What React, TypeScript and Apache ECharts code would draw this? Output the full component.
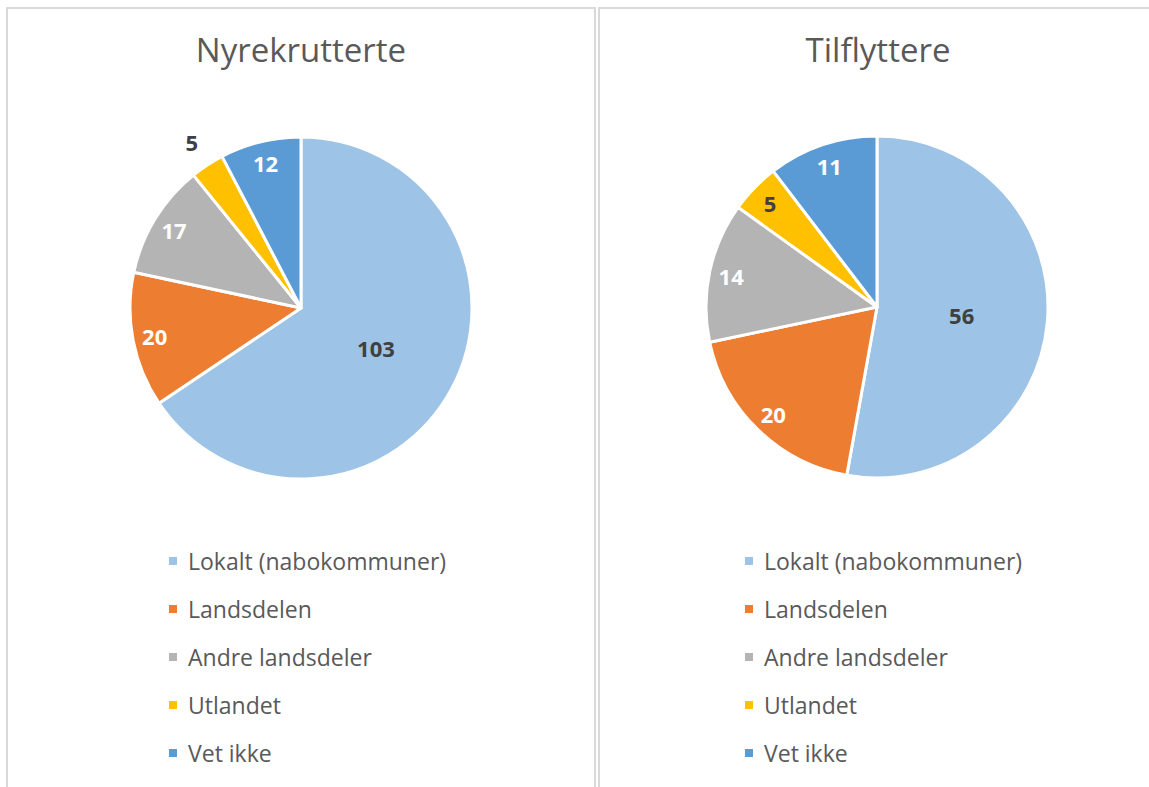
import React, { useEffect, useRef } from "react";
import * as echarts from "echarts";

const categories = ["Lokalt (nabokommuner)", "Landsdelen", "Andre landsdeler", "Utlandet", "Vet ikke"];
const sliceColors = ["#9DC3E6", "#ED7D31", "#B4B4B4", "#FFC000", "#5B9BD5"];
const nyrekrutterte = [103, 20, 17, 5, 12];
const tilflyttere = [56, 20, 14, 5, 11];
const titles = ["Nyrekrutterte", "Tilflyttere"];
// where each slice's value label sits: centre of pie, inner ring, or outside
const leftLabelRing = ["center", "ring", "ring", "outer", "ring"];
const rightLabelRing = ["center", "ring", "ring", "ring", "ring"];
const darkLabel = [true, false, false, true, false];

const FONT = "'Open Sans', 'Noto Sans', sans-serif";
const TEXT = "#595959";
const DARK = "#404040";

function buildSeries(values: number[], rings: string[], center: number[], id: string) {
  const labelFor = (i: number, ring: string) => ({
    show: rings[i] === ring,
    position: "inside",
    formatter: "{c}",
    color: darkLabel[i] || ring === "outer" ? DARK : "#FFFFFF",
    fontFamily: FONT,
    fontSize: 22,
    fontWeight: "bold",
  });
  const main = {
    type: "pie",
    id: id + "-main",
    center,
    radius: [0, 171],
    startAngle: 90,
    clockwise: true,
    avoidLabelOverlap: false,
    silent: true,
    itemStyle: { borderColor: "#FFFFFF", borderWidth: 3 },
    label: { show: false },
    labelLine: { show: false },
    data: categories.map((name, i) => ({
      name,
      value: values[i],
      itemStyle: { color: sliceColors[i] },
    })),
  };
  const ringSeries = (ring: string, radius: number[]) => ({
    type: "pie",
    id: id + "-" + ring,
    center,
    radius,
    startAngle: 90,
    clockwise: true,
    avoidLabelOverlap: false,
    silent: true,
    legendHoverLink: false,
    itemStyle: { color: "rgba(0,0,0,0)", borderWidth: 0 },
    labelLine: { show: false },
    emphasis: { disabled: true },
    data: categories.map((name, i) => ({
      name,
      value: values[i],
      itemStyle: { color: "rgba(0,0,0,0)" },
      label: labelFor(i, ring),
    })),
  });
  return [
    main,
    ringSeries("center", [0, 164]),
    ringSeries("ring", [122, 170]),
    ringSeries("outer", [180, 212]),
  ];
}

export default function App() {
  const ref = useRef<HTMLDivElement>(null);
  useEffect(() => {
    document.body.style.margin = "0";
    if (!ref.current) return;
    const chart = echarts.init(ref.current, null, { renderer: "svg" });
    const legendCommon = {
      orient: "vertical",
      top: 544,
      icon: "rect",
      itemWidth: 10,
      itemHeight: 10,
      itemGap: 24,
      selectedMode: false,
      data: categories,
      textStyle: {
        color: TEXT,
        fontFamily: FONT,
        fontSize: 23,
        lineHeight: 24,
        padding: [0, 0, 0, 5],
      },
    };
    const titleStyle = { color: TEXT, fontFamily: FONT, fontSize: 33, fontWeight: "normal" };
    chart.setOption({
      animation: false,
      backgroundColor: "#FFFFFF",
      title: [
        { text: titles[0], left: 301, top: 33, padding: 0, textAlign: "center", textStyle: titleStyle },
        { text: titles[1], left: 878, top: 33, padding: 0, textAlign: "center", textStyle: titleStyle },
      ],
      legend: [
        { ...legendCommon, left: 162 },
        { ...legendCommon, left: 738 },
      ],
      graphic: [
        {
          type: "rect",
          shape: { x: 7, y: 8, width: 588, height: 800 },
          style: { fill: "none", stroke: "#D9D9D9", lineWidth: 2 },
          silent: true,
        },
        {
          type: "rect",
          shape: { x: 599, y: 8, width: 600, height: 800 },
          style: { fill: "none", stroke: "#D9D9D9", lineWidth: 2 },
          silent: true,
        },
      ],
      series: [
        ...buildSeries(nyrekrutterte, leftLabelRing, [301, 308], "left"),
        ...buildSeries(tilflyttere, rightLabelRing, [877, 307], "right"),
      ],
    });
    return () => chart.dispose();
  }, []);
  return <div ref={ref} style={{ width: 1149, height: 787 }} />;
}
